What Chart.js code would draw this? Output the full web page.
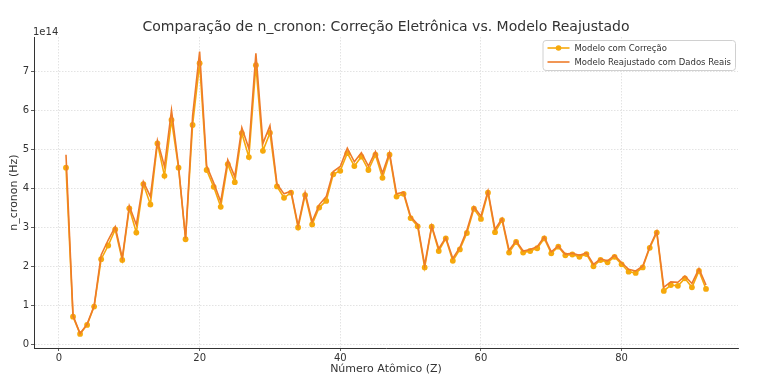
<!DOCTYPE html>
<html>
<head>
<meta charset="utf-8">
<script src="https://cdn.jsdelivr.net/npm/chart.js@4/dist/chart.umd.min.js"></script>
<style>
  html, body { margin: 0; padding: 0; background: #ffffff; }
  #wrap { width: 760px; height: 390px; }
</style>
</head>
<body>
<div id="wrap"><canvas id="c" width="760" height="390"></canvas></div>
<script>
// Atomic numbers Z = 1..92
const atomicNumbers = Array.from({length: 92}, (_, i) => i + 1);

// n_cronon values, in units of 1e14 Hz (offset label "1e14" as in the reference)
const modeloComCorrecao = [
  4.53, 0.72, 0.28, 0.51, 0.98, 2.19, 2.54, 2.95, 2.17, 3.49,
  2.87, 4.11, 3.59, 5.15, 4.32, 5.75, 4.53, 2.70, 5.62, 7.20,
  4.47, 4.04, 3.53, 4.62, 4.16, 5.41, 4.80, 7.15, 4.96, 5.42,
  4.05, 3.76, 3.89, 3.00, 3.83, 3.08, 3.51, 3.68, 4.36, 4.45,
  4.90, 4.57, 4.81, 4.47, 4.86, 4.27, 4.86, 3.79, 3.86, 3.24,
  3.03, 1.98, 3.02, 2.40, 2.72, 2.15, 2.44, 2.86, 3.48, 3.22,
  3.89, 2.88, 3.19, 2.36, 2.63, 2.36, 2.40, 2.47, 2.72, 2.34,
  2.51, 2.29, 2.31, 2.25, 2.32, 2.01, 2.17, 2.11, 2.25, 2.06,
  1.87, 1.84, 1.98, 2.48, 2.87, 1.38, 1.53, 1.51, 1.70, 1.47,
  1.89, 1.43
];
const modeloReajustado = [
  4.86, 0.75, 0.29, 0.53, 1.00, 2.30, 2.68, 3.02, 2.22, 3.55,
  3.07, 4.17, 3.79, 5.22, 4.56, 6.00, 4.57, 2.72, 5.85, 7.50,
  4.58, 4.14, 3.66, 4.73, 4.30, 5.55, 5.02, 7.45, 5.15, 5.60,
  4.11, 3.86, 3.93, 3.05, 3.89, 3.15, 3.58, 3.79, 4.43, 4.56,
  5.03, 4.68, 4.91, 4.57, 4.94, 4.39, 4.91, 3.86, 3.90, 3.28,
  3.08, 2.04, 3.04, 2.46, 2.74, 2.21, 2.49, 2.93, 3.53, 3.29,
  3.93, 2.95, 3.23, 2.42, 2.66, 2.40, 2.44, 2.51, 2.76, 2.38,
  2.53, 2.32, 2.34, 2.29, 2.35, 2.06, 2.20, 2.15, 2.29, 2.10,
  1.93, 1.89, 2.01, 2.51, 2.90, 1.47, 1.61, 1.60, 1.76, 1.57,
  1.95, 1.53
];

const xTicks = [0, 20, 40, 60, 80];
const yTicks = [0, 1, 2, 3, 4, 5, 6, 7];

const seriesLabels = ["Modelo com Correção", "Modelo Reajustado com Dados Reais"];
const titleText = "Comparação de n_cronon: Correção Eletrônica vs. Modelo Reajustado";
const xTitle = "Número Atômico (Z)";
const yTitle = "n_cronon (Hz)";
const offsetText = "1e14";

const COL_CORR = "#f6a90c";
const COL_REAJ = "#ee7b2a";
const FONT = "'DejaVu Sans', sans-serif";
const TEXT = "#333333";

const toPoints = arr => atomicNumbers.map((z, i) => ({x: z, y: arr[i]}));

const decorPlugin = {
  id: 'decor',
  afterDraw(chart) {
    const ctx = chart.ctx;
    const ca = chart.chartArea;
    ctx.save();
    // Title
    ctx.fillStyle = TEXT;
    ctx.font = "14px " + FONT;
    ctx.textAlign = "center";
    ctx.textBaseline = "middle";
    ctx.fillText(titleText, (ca.left + ca.right) / 2, 27);
    // Offset text
    ctx.font = "10px " + FONT;
    ctx.textAlign = "left";
    ctx.textBaseline = "alphabetic";
    ctx.fillText(offsetText, ca.left - 1, 35);

    // Legend
    ctx.font = "8.5px " + FONT;
    const textW = Math.max(...seriesLabels.map(t => ctx.measureText(t).width));
    const boxW = 5 + 22 + 5 + textW + 4;
    const boxH = 30;
    const bx = ca.right - 3 - boxW;
    const by = ca.top + 3;
    ctx.beginPath();
    if (ctx.roundRect) ctx.roundRect(bx + 0.5, by + 0.5, boxW, boxH, 3);
    else ctx.rect(bx + 0.5, by + 0.5, boxW, boxH);
    ctx.fillStyle = "rgba(255,255,255,0.85)";
    ctx.fill();
    ctx.strokeStyle = "#d0d0d0";
    ctx.lineWidth = 1;
    ctx.stroke();
    const rows = [by + 8, by + 22];
    const cols = [COL_CORR, COL_REAJ];
    rows.forEach((ry, i) => {
      ctx.beginPath();
      ctx.moveTo(bx + 5, ry);
      ctx.lineTo(bx + 27, ry);
      ctx.strokeStyle = cols[i];
      ctx.lineWidth = 1.6;
      ctx.stroke();
      if (i === 0) {
        ctx.beginPath();
        ctx.arc(bx + 16, ry, 2.8, 0, Math.PI * 2);
        ctx.fillStyle = cols[i];
        ctx.fill();
      }
      ctx.fillStyle = TEXT;
      ctx.textAlign = "left";
      ctx.textBaseline = "middle";
      ctx.fillText(seriesLabels[i], bx + 32, ry + 0.5);
    });
    ctx.restore();
  }
};

new Chart(document.getElementById('c'), {
  type: 'line',
  data: {
    datasets: [
      {
        label: seriesLabels[0],
        data: toPoints(modeloComCorrecao),
        borderColor: COL_CORR,
        backgroundColor: COL_CORR,
        pointBackgroundColor: COL_CORR,
        pointBorderColor: COL_CORR,
        pointRadius: 2.9,
        pointBorderWidth: 0,
        borderWidth: 1.6,
        tension: 0,
        fill: false,
        order: 1
      },
      {
        label: seriesLabels[1],
        data: toPoints(modeloReajustado),
        borderColor: COL_REAJ,
        backgroundColor: COL_REAJ,
        pointRadius: 0,
        borderWidth: 1.6,
        tension: 0,
        fill: false,
        order: 0
      }
    ]
  },
  options: {
    responsive: false,
    animation: false,
    devicePixelRatio: 1,
    layout: { padding: { top: 37, right: 22, left: 0, bottom: 0 } },
    plugins: {
      legend: { display: false },
      title: { display: false },
      tooltip: { enabled: false }
    },
    scales: {
      x: {
        type: 'linear',
        min: -3.55,
        max: 96.55,
        afterFit(s) { s.height = 42; },
        afterBuildTicks(s) { s.ticks = xTicks.map(v => ({value: v})); },
        ticks: { color: TEXT, font: { family: FONT, size: 10 }, padding: 1, maxRotation: 0, autoSkip: false },
        grid: { color: "#dcdcdc", lineWidth: 0.8, tickLength: 3, tickColor: "#333", tickWidth: 0.8 },
        border: { display: true, color: "#333", width: 1, dash: [1.5, 1.5] },
        title: { display: true, text: xTitle, color: TEXT, font: { family: FONT, size: 11 }, padding: { top: 0, bottom: 14 } }
      },
      y: {
        type: 'linear',
        min: -0.08,
        max: 7.87,
        afterFit(s) { s.width = 34; },
        afterBuildTicks(s) { s.ticks = yTicks.map(v => ({value: v})); },
        ticks: { color: TEXT, font: { family: FONT, size: 10 }, padding: 2, autoSkip: false },
        grid: { color: "#dcdcdc", lineWidth: 0.8, tickLength: 3, tickColor: "#333", tickWidth: 0.8 },
        border: { display: true, color: "#333", width: 1, dash: [1.5, 1.5] },
        title: { display: true, text: yTitle, color: TEXT, font: { family: FONT, size: 11 }, padding: { top: 8, bottom: 0 } }
      }
    }
  },
  plugins: [decorPlugin]
});
</script>
</body>
</html>
